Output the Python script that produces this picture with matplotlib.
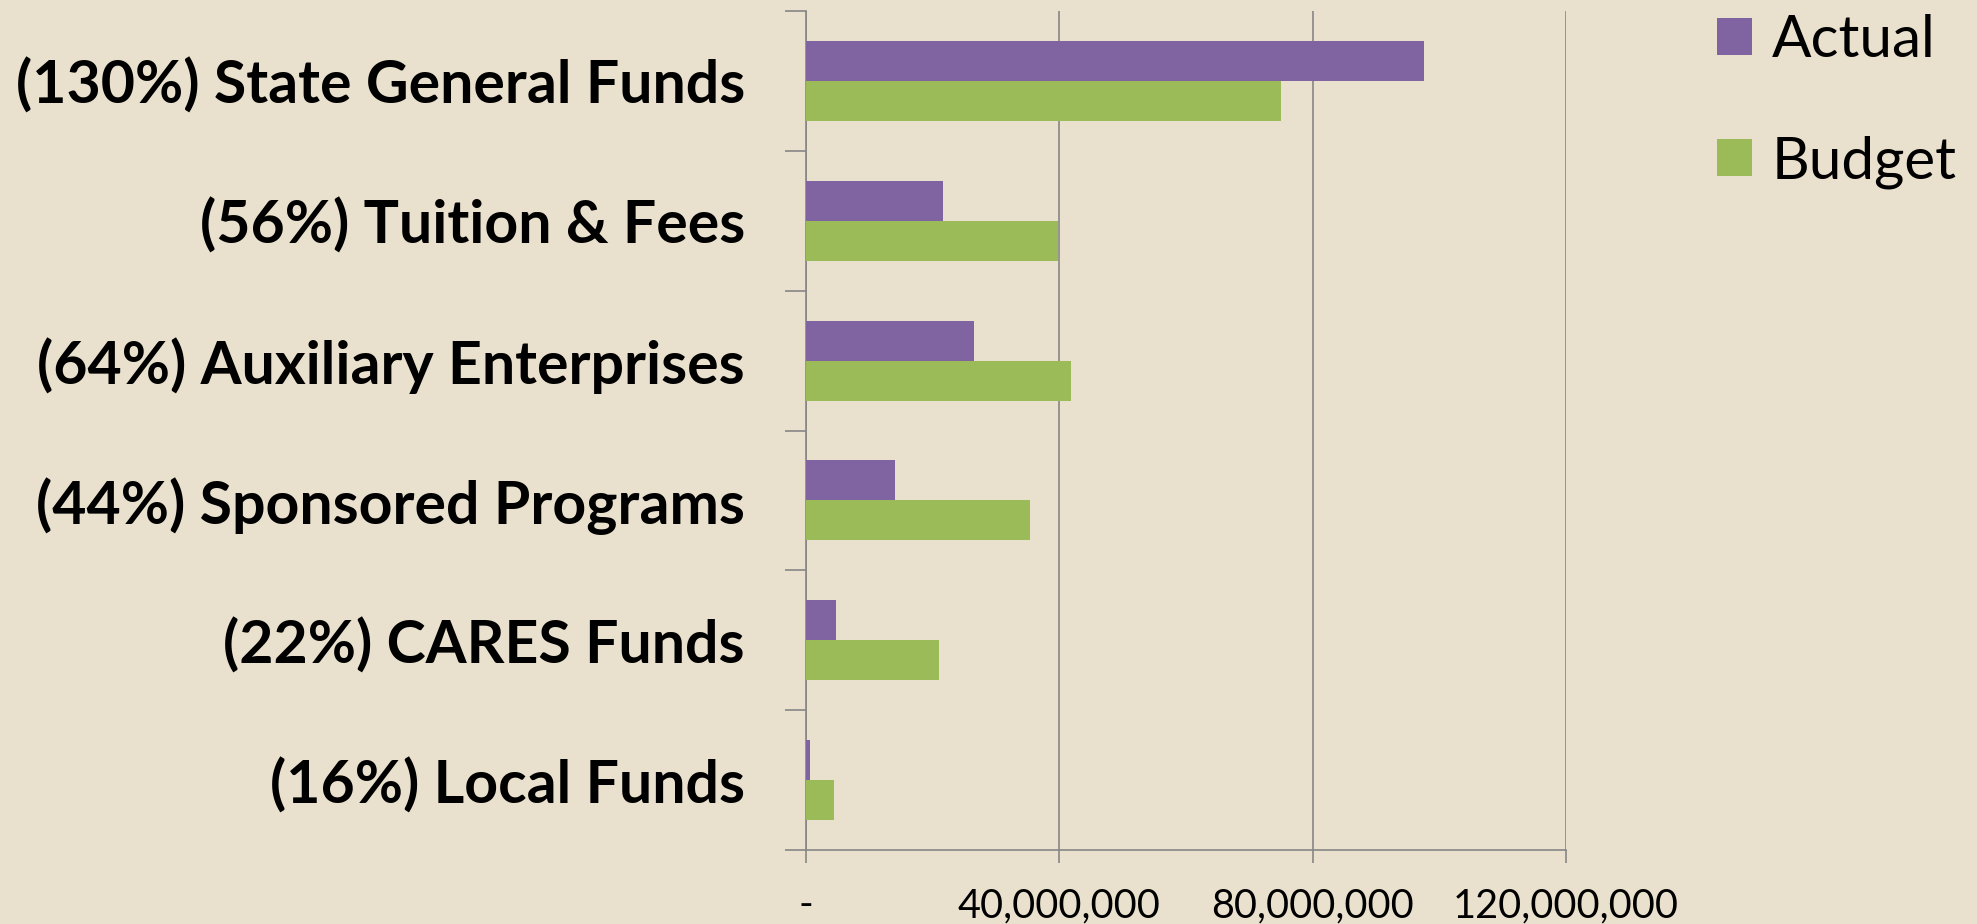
import matplotlib.pyplot as plt
import matplotlib.ticker as ticker
import numpy as np

categories = [
    "(130%) State General Funds",
    "(56%) Tuition & Fees",
    "(64%) Auxiliary Enterprises",
    "(44%) Sponsored Programs",
    "(22%) CARES Funds",
    "(16%) Local Funds",
]
actual = [97.6e6, 21.6e6, 26.5e6, 14.0e6, 4.7e6, 0.65e6]
budget = [75.0e6, 39.8e6, 41.8e6, 35.3e6, 21.0e6, 4.4e6]
x_ticks = [0, 40e6, 80e6, 120e6]

BG = "#E9E1CD"
PURPLE = "#8064A2"
GREEN = "#9BBB59"
GRAY = "#868686"

plt.rcParams['font.family'] = ['Lato', 'DejaVu Sans']

fig = plt.figure(figsize=(19.77, 9.24), dpi=100, facecolor=BG)
ax = fig.add_axes([806 / 1977, 1 - 850 / 924, 760 / 1977, 839 / 924])
ax.set_facecolor(BG)

y = np.arange(len(categories))
h = 0.286
ax.barh(y - h / 2, actual, height=h, color=PURPLE, label="Actual", zorder=3)
ax.barh(y + h / 2, budget, height=h, color=GREEN, label="Budget", zorder=3)

ax.set_ylim(-0.5, len(categories) - 0.5)
ax.invert_yaxis()
ax.set_xlim(0, 120e6)

ax.set_yticks(y)
ax.set_yticklabels(categories, fontsize=42.5, fontweight='bold')
ax.set_yticks(np.arange(-0.5, len(categories)), minor=True)
ax.tick_params(axis='y', which='major', length=0, pad=44)
ax.tick_params(axis='y', which='minor', length=15, width=1.2, color=GRAY, direction='out')

ax.set_xticks(x_ticks)
ax.xaxis.set_major_formatter(ticker.FuncFormatter(lambda v, pos: '-' if v == 0 else f'{v:,.0f}'))
ax.tick_params(axis='x', length=9, width=1.2, color=GRAY, labelsize=28.5, pad=18)

ax.grid(axis='x', color=GRAY, linewidth=1.2, zorder=0)
for s in ['top', 'right']:
    ax.spines[s].set_visible(False)
for s in ['left', 'bottom']:
    ax.spines[s].set_color(GRAY)
    ax.spines[s].set_linewidth(1.2)

fig.legend(loc='upper left', bbox_to_anchor=(1717 / 1977, 0.985), frameon=False,
           fontsize=42, handlelength=0.6, handleheight=0.6, handletextpad=0.34,
           labelspacing=1.17, borderpad=0, borderaxespad=0)

fig.savefig("out.png", dpi=100, facecolor=BG)
